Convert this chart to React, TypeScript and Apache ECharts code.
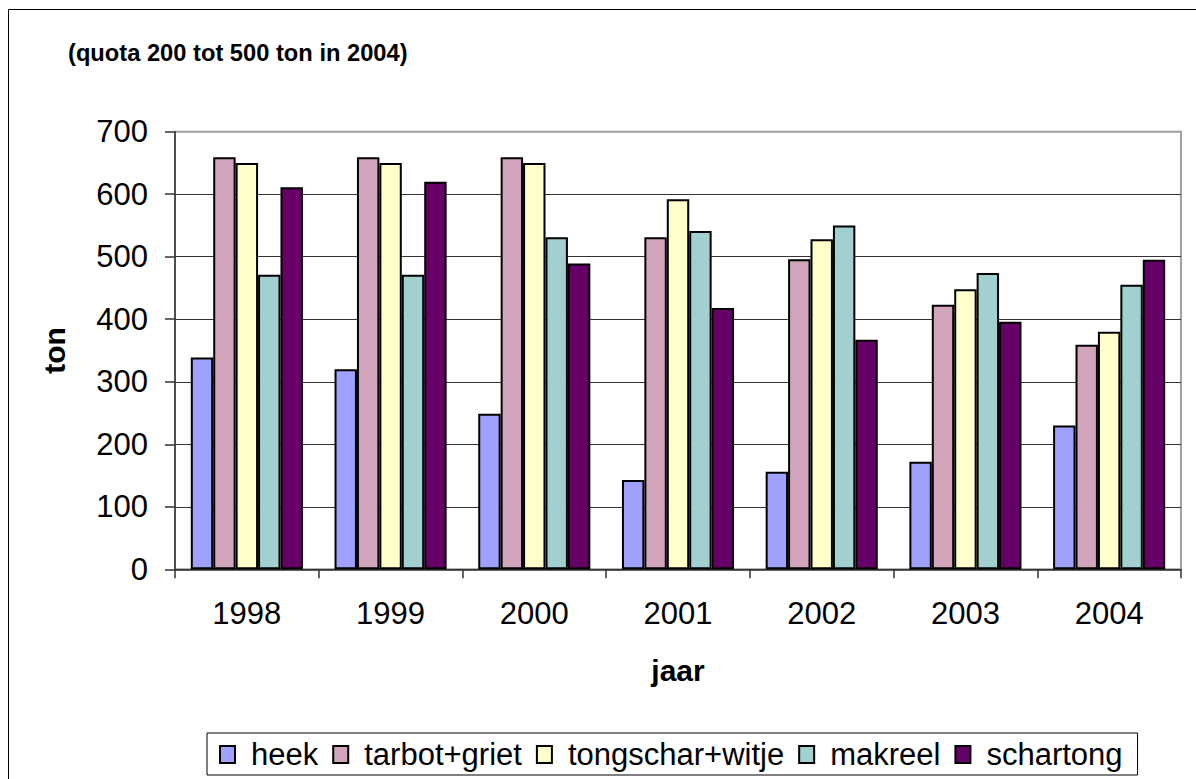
import React, { useEffect, useRef } from "react";
import * as echarts from "echarts";

const years = ["1998", "1999", "2000", "2001", "2002", "2003", "2004"];
const heek = [339, 320, 249, 143, 156, 172, 230];
const tarbotGriet = [659, 659, 659, 531, 496, 423, 359];
const tongscharWitje = [650, 650, 650, 592, 528, 448, 380];
const makreel = [471, 471, 531, 541, 550, 474, 455];
const schartong = [611, 620, 489, 418, 367, 396, 495];

const seriesNames = ["heek", "tarbot+griet", "tongschar+witje", "makreel", "schartong"];
const seriesData = [heek, tarbotGriet, tongscharWitje, makreel, schartong];
const seriesColors = ["#A0A0FF", "#D2A5BC", "#FFFFCC", "#A2CFD0", "#660066"];

const FONT = "Arial, 'Liberation Sans', sans-serif";

export default function App() {
  const ref = useRef<HTMLDivElement>(null);
  useEffect(() => {
    if (!ref.current) return;
    const chart = echarts.init(ref.current, null, { renderer: "svg" });
    const rich: Record<string, any> = {
      t: { fontFamily: FONT, fontSize: 31, color: "#000", padding: [0, 0, 0, 17] },
    };
    seriesColors.forEach((c, i) => {
      rich["b" + i] = {
        width: 13,
        height: 15,
        backgroundColor: c,
        borderColor: "#000",
        borderWidth: 2,
      };
    });
    chart.setOption({
      animation: false,
      backgroundColor: "#fff",
      textStyle: { fontFamily: FONT },
      title: {
        text: "(quota 200 tot 500 ton in 2004)",
        left: 68,
        top: 41,
        padding: 0,
        textStyle: { fontFamily: FONT, fontSize: 23.7, fontWeight: "bold", color: "#000" },
      },
      graphic: [
        {
          type: "rect",
          shape: { x: 8.5, y: 9.5, width: 1400, height: 1000 },
          style: { fill: "none", stroke: "#000", lineWidth: 1 },
          silent: true,
        },
      ],
      legend: {
        left: 207,
        top: 733,
        padding: [6, 15, 5, 9],
        borderColor: "#000",
        borderWidth: 1,
        itemWidth: 0,
        itemHeight: 15,
        itemGap: 11,
        icon: "rect",
        itemStyle: { opacity: 0, borderWidth: 0 },
        formatter: (name: string) => {
          const i = seriesNames.indexOf(name);
          return "{b" + i + "|}{t|" + name + "}";
        },
        textStyle: { fontFamily: FONT, fontSize: 31, color: "#000", rich },
        data: seriesNames,
      },
      grid: {
        left: 175,
        right: 15,
        top: 131.7,
        bottom: 209.7,
        show: true,
        borderColor: "#A0A0A0",
        borderWidth: 2,
      },
      xAxis: {
        type: "category",
        data: years,
        name: "jaar",
        nameLocation: "middle",
        nameGap: 86,
        nameTextStyle: { fontFamily: FONT, fontSize: 30, fontWeight: "bold", color: "#000" },
        axisLine: { lineStyle: { color: "#333", width: 1.5 } },
        axisTick: { show: true, length: 9, lineStyle: { color: "#333", width: 1.5 } },
        axisLabel: { fontFamily: FONT, fontSize: 31, color: "#000", margin: 29 },
      },
      yAxis: {
        type: "value",
        min: 0,
        max: 700,
        interval: 100,
        name: "ton",
        nameLocation: "middle",
        nameRotate: 90,
        nameGap: 106,
        nameTextStyle: { fontFamily: FONT, fontSize: 30, fontWeight: "bold", color: "#000" },
        axisLine: { show: true, lineStyle: { color: "#333", width: 1.5 } },
        axisTick: { show: true, length: 10, lineStyle: { color: "#333", width: 1.5 } },
        axisLabel: { fontFamily: FONT, fontSize: 31, color: "#000", margin: 27 },
        splitLine: {
          show: true,
          lineStyle: {
            color: ["#333", "#333", "#333", "#333", "#333", "#333", "#333", "#A0A0A0"],
            width: 1,
          },
        },
      },
      series: seriesNames.map((name, i) => ({
        name,
        type: "bar",
        data: seriesData[i],
        barGap: "0%",
        barCategoryGap: "22%",
        itemStyle: { color: seriesColors[i], borderColor: "#000", borderWidth: 2 },
      })),
    });
    return () => chart.dispose();
  }, []);
  return (
    <div
      ref={ref}
      style={{ position: "absolute", left: 0, top: 0, width: 1196, height: 779, overflow: "hidden" }}
    />
  );
}
